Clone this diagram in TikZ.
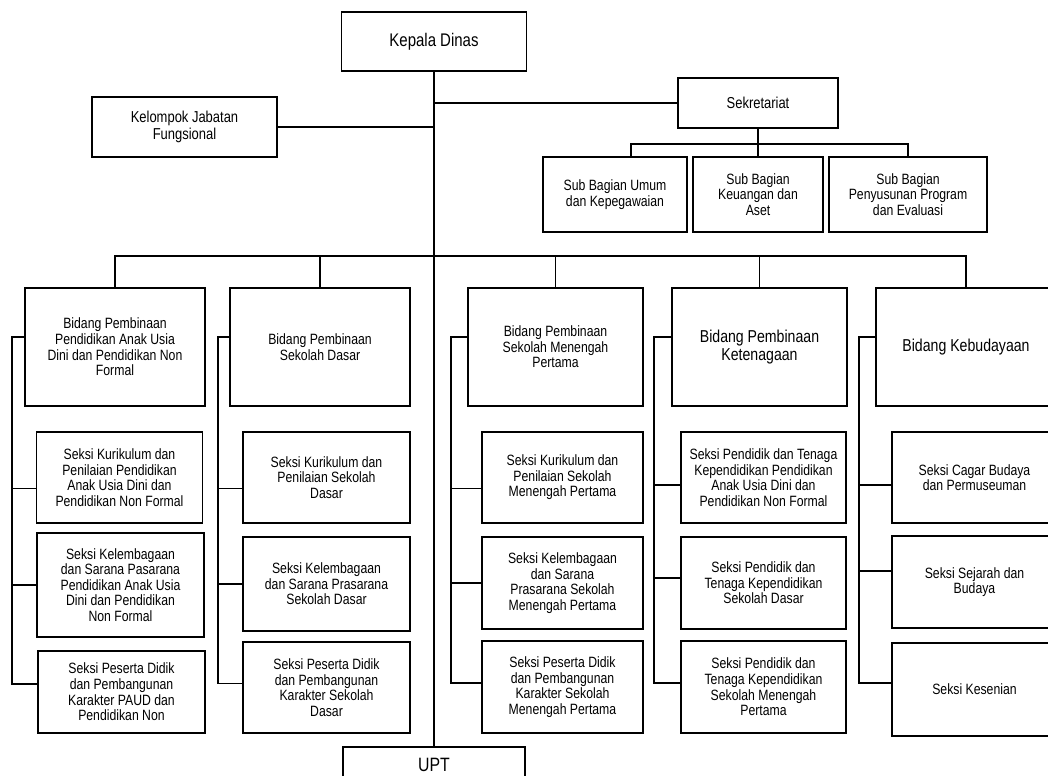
\documentclass[tikz,border=0pt]{standalone}
\usepackage{fontspec}
\setmainfont{Liberation Sans}[FakeStretch=0.82]

\begin{document}
\begin{tikzpicture}[x=0.02cm,y=-0.02cm,line width=0.7pt,
    kotak/.style={draw,line width=0.9pt,align=center,inner sep=1pt,font=\fontsize{8.5}{8.9}\selectfont},
    besar/.style={font=\fontsize{9.8}{10.4}\selectfont},
    bidang/.style={kotak,minimum width=3.6cm,minimum height=2.36cm},
    seksi/.style={kotak,minimum height=1.82cm}]
    \clip (0,0) rectangle (1048,776);

    % pimpinan dan sekretariat
    \node[kotak,minimum width=3.7cm,minimum height=1.18cm,font=\fontsize{10.4}{11}\selectfont] (1) at (434,41.5) {Kepala Dinas};
    \node[kotak,minimum width=3.7cm,minimum height=1.2cm,font=\fontsize{9}{9.6}\selectfont] (2) at (184.5,127) {Kelompok Jabatan\\Fungsional};
    \node[kotak,minimum width=3.2cm,minimum height=1cm,font=\fontsize{9}{9.6}\selectfont] (3) at (758,103) {Sekretariat};
    \node[kotak,minimum width=2.88cm,minimum height=1.5cm] (4) at (615,194.5) {Sub Bagian Umum\\dan Kepegawaian};
    \node[kotak,minimum width=2.6cm,minimum height=1.5cm] (5) at (758,194.5) {Sub Bagian\\Keuangan dan\\Aset};
    \node[kotak,minimum width=3.16cm,minimum height=1.5cm] (6) at (908,194.5) {Sub Bagian\\Penyusunan Program\\dan Evaluasi};

    % bidang
    \node[bidang] (7) at (115,347) {Bidang Pembinaan\\Pendidikan Anak Usia\\Dini dan Pendidikan Non\\Formal};
    \node[bidang] (8) at (320,347) {Bidang Pembinaan\\Sekolah Dasar};
    \node[bidang,minimum width=3.5cm] (9) at (555.5,347) {Bidang Pembinaan\\Sekolah Menengah\\Pertama};
    \node[bidang,besar,minimum width=3.5cm] (10) at (759.5,347) {Bidang Pembinaan\\Ketenagaan};
    \node[bidang,besar] (11) at (966,347) {Bidang Kebudayaan};

    % seksi
    \node[seksi,minimum width=3.32cm] (12) at (119.5,477.5) {Seksi Kurikulum dan\\Penilaian Pendidikan\\Anak Usia Dini dan\\Pendidikan Non Formal};
    \node[seksi,minimum width=3.34cm,minimum height=2.08cm] (13) at (120.5,585) {Seksi Kelembagaan\\dan Sarana Pasarana\\Pendidikan Anak Usia\\Dini dan Pendidikan\\Non Formal};
    \node[seksi,minimum width=3.34cm,minimum height=1.64cm] (14) at (121.5,692) {Seksi Peserta Didik\\dan Pembangunan\\Karakter PAUD dan\\Pendidikan Non};

    \node[seksi,minimum width=3.34cm] (15) at (326.5,477.5) {Seksi Kurikulum dan\\Penilaian Sekolah\\Dasar};
    \node[seksi,minimum width=3.34cm,minimum height=1.88cm] (16) at (326.5,584) {Seksi Kelembagaan\\dan Sarana Prasarana\\Sekolah Dasar};
    \node[seksi,minimum width=3.34cm] (17) at (326.5,687.5) {Seksi Peserta Didik\\dan Pembangunan\\Karakter Sekolah\\Dasar};

    \node[seksi,minimum width=3.22cm] (18) at (562.5,477.5) {Seksi Kurikulum dan\\Penilaian Sekolah\\Menengah Pertama};
    \node[seksi,minimum width=3.22cm,minimum height=1.84cm] (19) at (562.5,583) {Seksi Kelembagaan\\dan Sarana\\Prasarana Sekolah\\Menengah Pertama};
    \node[seksi,minimum width=3.22cm,minimum height=1.84cm] (20) at (562.5,687) {Seksi Peserta Didik\\dan Pembangunan\\Karakter Sekolah\\Menengah Pertama};

    \node[seksi,minimum width=3.3cm] (21) at (763.5,477.5) {Seksi Pendidik dan Tenaga\\Kependidikan Pendidikan\\Anak Usia Dini dan\\Pendidikan Non Formal};
    \node[seksi,minimum width=3.3cm,minimum height=1.84cm] (22) at (763.5,583) {Seksi Pendidik dan\\Tenaga Kependidikan\\Sekolah Dasar};
    \node[seksi,minimum width=3.3cm,minimum height=1.84cm] (23) at (763.5,687) {Seksi Pendidik dan\\Tenaga Kependidikan\\Sekolah Menengah\\Pertama};

    \node[seksi,minimum width=3.3cm] (24) at (974.5,477.5) {Seksi Cagar Budaya\\dan Permuseuman};
    \node[seksi,minimum width=3.3cm,minimum height=1.84cm] (25) at (974.5,582) {Seksi Sejarah dan\\Budaya};
    \node[seksi,minimum width=3.3cm,minimum height=1.86cm] (26) at (974.5,689.5) {Seksi Kesenian};

    \node[kotak,minimum width=3.64cm,minimum height=0.72cm,font=\fontsize{11}{12}\selectfont] (27) at (434,765) {UPT};

    % garis bantu
    \coordinate (sb) at (0,144);
    \coordinate (bus) at (0,256);
    \coordinate (k1) at (12,0);
    \coordinate (k2) at (218,0);
    \coordinate (k3) at (451,0);
    \coordinate (k4) at (654,0);
    \coordinate (k5) at (859,0);

    \draw (1) -- (27);
    \draw (2.east) -- (2.east -| 1);
    \draw (3.west) -- (3.west -| 1);
    \draw (3) -- (5);
    \draw ([xshift=0.32cm]4.north) -- ([xshift=0.32cm]4.north |- sb) -- (6.north |- sb) -- (6.north);

    \draw (7.north) -- (7.north |- bus) -- (11.north |- bus) -- (11.north);
    \draw (8) -- (8.north |- bus);
    \draw (9) -- (9.north |- bus);
    \draw (10) -- (10.north |- bus);

    \draw ([yshift=0.2cm]7.west) -- ([yshift=0.2cm]7.west -| k1) |- ([yshift=0.16cm]14.west);
    \draw ([yshift=-0.22cm]12.west) -- ([yshift=-0.22cm]12.west -| k1);
    \draw (13.west) -- (13.west -| k1);
    \draw ([yshift=0.2cm]8.west) -- ([yshift=0.2cm]8.west -| k2) |- ([yshift=0.08cm]17.west);
    \draw ([yshift=-0.22cm]15.west) -- ([yshift=-0.22cm]15.west -| k2);
    \draw (16.west) -- (16.west -| k2);
    \draw ([yshift=0.2cm]9.west) -- ([yshift=0.2cm]9.west -| k3) |- ([yshift=0.08cm]20.west);
    \draw ([yshift=-0.22cm]18.west) -- ([yshift=-0.22cm]18.west -| k3);
    \draw (19.west) -- (19.west -| k3);
    \draw ([yshift=0.2cm]10.west) -- ([yshift=0.2cm]10.west -| k4) |- ([yshift=0.08cm]23.west);
    \draw ([yshift=-0.15cm]21.west) -- ([yshift=-0.15cm]21.west -| k4);
    \draw ([yshift=0.1cm]22.west) -- ([yshift=0.1cm]22.west -| k4);
    \draw ([yshift=0.2cm]11.west) -- ([yshift=0.2cm]11.west -| k5) |- ([yshift=0.13cm]26.west);
    \draw ([yshift=-0.15cm]24.west) -- ([yshift=-0.15cm]24.west -| k5);
    \draw ([yshift=0.22cm]25.west) -- ([yshift=0.22cm]25.west -| k5);
\end{tikzpicture}
\end{document}
